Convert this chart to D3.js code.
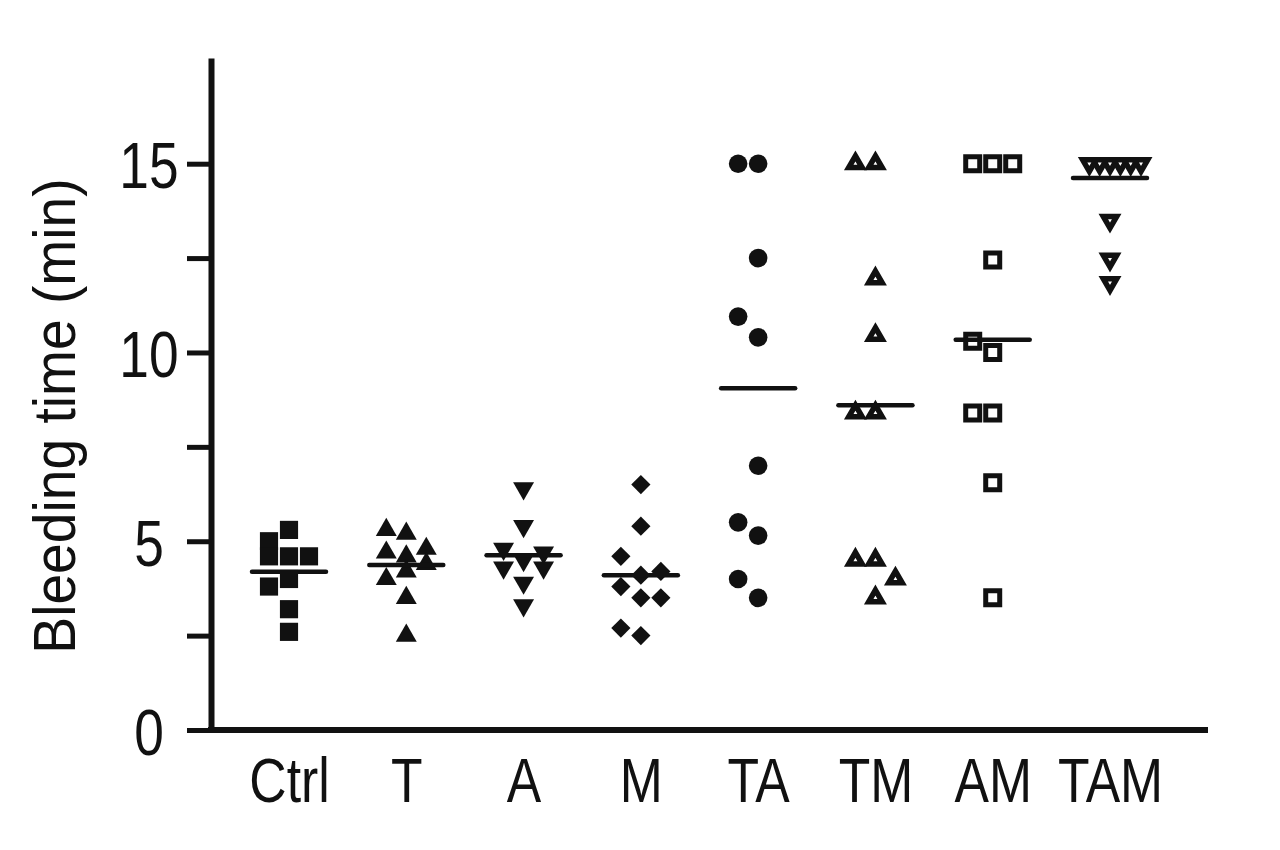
<!DOCTYPE html>
<html>
<head>
<meta charset="utf-8">
<style>
  body { margin: 0; background: #fff; }
  svg text { font-family: "Liberation Sans", Arial, sans-serif; fill: #111; }
</style>
</head>
<body>
<svg width="1280" height="850"></svg>
<script src="https://d3js.org/d3.v7.min.js"></script>
<script>
// groups along the x axis
var groups = ["Ctrl", "T", "A", "M", "TA", "TM", "AM", "TAM"];

// bleeding time (min) per animal
var ctrl = [5.3, 5.0, 4.6, 4.6, 4.6, 4.0, 3.8, 3.2, 2.6];
var t    = [5.2, 5.3, 4.8, 4.7, 4.6, 4.4, 4.2, 4.0, 3.5, 2.5];
var a    = [6.4, 5.4, 4.5, 4.8, 4.7, 4.3, 4.3, 3.9, 3.3];
var m    = [6.5, 5.4, 4.1, 4.6, 4.2, 3.8, 3.5, 3.5, 2.5, 2.7];
var ta   = [15, 15, 12.5, 10.4, 10.95, 7.0, 5.15, 5.5, 3.5, 4.0];
var tm   = [15, 15, 11.95, 10.45, 8.4, 8.4, 4.5, 4.5, 4.0, 3.5];
var am   = [15, 15, 15, 12.45, 10.0, 10.3, 8.4, 8.4, 6.55, 3.5];
var tam  = [15, 15, 15, 15, 15, 15, 13.5, 12.47, 11.85];

// horizontal lines drawn for each group
var means = [4.19, 4.37, 4.63, 4.10, 9.05, 8.60, 10.34, 14.62];

var yTicks = [0, 2.5, 5, 7.5, 10, 12.5, 15];

var series = [ctrl, t, a, m, ta, tm, am, tam];
var symbols = [
  { type: d3.symbolSquare,   size: 330, open: false, rot: 0,   sw: 0 },
  { type: d3.symbolTriangle, size: 190, open: false, rot: 0,   sw: 0 },
  { type: d3.symbolTriangle, size: 190, open: false, rot: 180, sw: 0 },
  { type: d3.symbolSquare,   size: 185, open: false, rot: 45,  sw: 0 },
  { type: d3.symbolCircle,   size: 272, open: false, rot: 0,   sw: 0 },
  { type: d3.symbolTriangle, size: 78,  open: true,  rot: 0,   sw: 5.5 },
  { type: d3.symbolSquare,   size: 196, open: true,  rot: 0,   sw: 5 },
  { type: d3.symbolTriangle, size: 78,  open: true,  rot: 180, sw: 5.5 }
];

var svg = d3.select("svg");
var axisX0 = 211, axisRight = 1208, yTop = 58, yBottom = 730;
var narrow = 0.82;

var y = d3.scaleLinear().domain([0, 17.8]).range([yBottom, yTop]);
var x = d3.scalePoint().domain(groups).range([289, 1110]);

// column scatter: put each point in the nearest free column
function swarm(values, thr) {
  var placed = [];
  values.forEach(function(v) {
    var py = y(v);
    function clear(s) {
      var c = d3.min(placed.filter(function(p) { return p.slot === s; }), function(p) { return Math.abs(p.py - py); });
      return c === undefined ? Infinity : c;
    }
    var slot = [0, -1, 1].find(function(s) { return clear(s) >= thr; });
    if (slot === undefined) slot = [0, -1, 1].find(function(s) { return clear(s) >= thr * 0.55; });
    if (slot === undefined) slot = [2, -2, 3, -3, 4, -4].find(function(s) { return clear(s) >= thr; });
    placed.push({ v: v, py: py, slot: slot });
  });
  var maxAbs = d3.max(placed, function(p) { return Math.abs(p.slot); }) || 1;
  var step = Math.min(20, 31 / maxAbs);
  placed.forEach(function(p) { p.dx = p.slot * step; });
  return placed;
}

// y axis
var yAxis = d3.axisLeft(y)
  .tickValues(yTicks)
  .tickSize(24)
  .tickSizeOuter(0)
  .tickFormat(function(d) { return d % 5 === 0 ? d : ""; });

var gy = svg.append("g")
  .attr("transform", "translate(" + axisX0 + ",0)")
  .call(yAxis);
gy.select(".domain").attr("stroke", "#111").attr("stroke-width", 6);
gy.selectAll(".tick line").attr("stroke", "#111").attr("stroke-width", 5);
gy.selectAll(".tick text")
  .attr("x", 0)
  .attr("dy", "0.37em")
  .attr("transform", "translate(-62,0) scale(" + narrow + ",1)")
  .attr("text-anchor", "middle")
  .style("font-size", "65px");

// x axis baseline and labels
svg.append("line")
  .attr("x1", axisX0 - 3).attr("x2", axisRight)
  .attr("y1", y(0)).attr("y2", y(0))
  .attr("stroke", "#111").attr("stroke-width", 6);

var gx = svg.append("g")
  .attr("transform", "translate(0," + y(0) + ")")
  .call(d3.axisBottom(x).tickSize(0).tickPadding(0));
gx.select(".domain").remove();
gx.selectAll(".tick text")
  .attr("dy", 0)
  .attr("y", 0)
  .attr("transform", "translate(0,72) scale(" + narrow + ",1)")
  .style("font-size", "63px");

// y axis title
svg.append("text")
  .attr("transform", "translate(75,416) rotate(-90) scale(0.92,1)")
  .attr("text-anchor", "middle")
  .style("font-size", "60px")
  .text("Bleeding time (min)");

// points
series.forEach(function(vals, i) {
  var sym = symbols[i];
  var pts = swarm(vals, 21);
  var gen = d3.symbol().type(sym.type).size(sym.size);
  svg.append("g").selectAll("path")
    .data(pts)
    .enter().append("path")
      .attr("d", gen)
      .attr("transform", function(p) {
        return "translate(" + (x(groups[i]) + p.dx) + "," + p.py + ") rotate(" + sym.rot + ")";
      })
      .attr("fill", sym.open ? "#fff" : "#111")
      .attr("stroke", "#111")
      .attr("stroke-width", sym.sw)
      .attr("stroke-linejoin", "miter");
});

// group lines
svg.append("g").selectAll("line")
  .data(means)
  .enter().append("line")
    .attr("x1", function(d, i) { return x(groups[i]) - 37; })
    .attr("x2", function(d, i) { return x(groups[i]) + 37; })
    .attr("y1", function(d) { return y(d); })
    .attr("y2", function(d) { return y(d); })
    .attr("stroke", "#111")
    .attr("stroke-width", 4.5)
    .attr("stroke-linecap", "round");
</script>
</body>
</html>
